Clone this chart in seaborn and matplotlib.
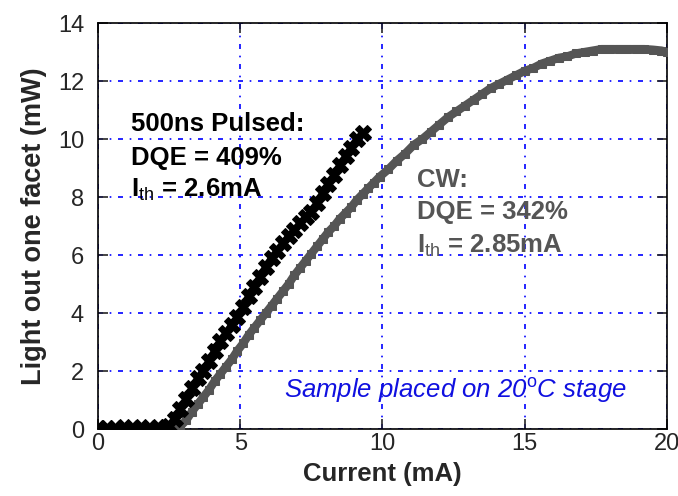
import matplotlib
matplotlib.use('Agg')
import matplotlib.pyplot as plt
import seaborn as sns
import pandas as pd

# Pulsed (500ns) L-I data
pulsed_current = [0.0, 0.3, 0.6, 0.9, 1.2, 1.5, 1.8, 2.1, 2.4,
                  2.5, 2.7, 2.9, 3.1, 3.3, 3.5, 3.7, 3.9, 4.1, 4.3, 4.5,
                  4.7, 4.9, 5.1, 5.3, 5.5, 5.7, 5.9, 6.1, 6.3, 6.5, 6.7,
                  6.9, 7.1, 7.3, 7.5, 7.7, 7.9, 8.1, 8.3, 8.5, 8.7, 8.9,
                  9.1, 9.3]
pulsed_power = [0.05, 0.05, 0.04, 0.06, 0.05, 0.06, 0.05, 0.06, 0.08,
                0.12, 0.35, 0.7, 1.05, 1.4, 1.75, 2.0, 2.35, 2.7, 3.05, 3.3,
                3.6, 3.85, 4.2, 4.6, 4.9, 5.25, 5.6, 5.9, 6.15, 6.4, 6.65,
                6.85, 7.1, 7.3, 7.5, 7.8, 8.15, 8.45, 8.75, 9.1, 9.4, 9.7,
                10.0, 10.2]

# CW L-I data
cw_current = [0.0, 0.4, 0.8, 1.2, 1.6, 2.0, 2.4, 2.8,
              2.9, 3.1, 3.3, 3.5, 3.7, 3.9, 4.1, 4.3, 4.5, 4.7, 4.9, 5.1,
              5.3, 5.5, 5.7, 5.9, 6.1, 6.3, 6.5, 6.7, 6.9, 7.1, 7.3, 7.5,
              7.7, 7.9, 8.1, 8.3, 8.5, 8.7, 8.9, 9.1, 9.3, 9.5, 9.7, 9.9,
              10.2, 10.5, 10.8, 11.1, 11.4, 11.7, 12.0, 12.3, 12.6, 12.9,
              13.2, 13.5, 13.8, 14.1, 14.4, 14.7, 15.0, 15.3, 15.6, 15.9,
              16.2, 16.5, 16.8, 17.1, 17.4, 17.7, 18.0, 18.3, 18.6, 18.9,
              19.2, 19.5, 19.8, 20.0]
cw_power = [-0.02, -0.02, -0.01, -0.02, -0.01, -0.02, -0.01, 0.0,
            0.1, 0.3, 0.6, 0.85, 1.1, 1.35, 1.65, 1.9, 2.15, 2.4, 2.7, 2.95,
            3.25, 3.5, 3.75, 4.0, 4.25, 4.5, 4.75, 5.0, 5.3, 5.55, 5.8, 6.05,
            6.3, 6.55, 6.8, 7.0, 7.25, 7.45, 7.65, 7.9, 8.1, 8.3, 8.5, 8.7,
            8.95, 9.25, 9.5, 9.8, 10.0, 10.25, 10.5, 10.75, 10.95, 11.15,
            11.35, 11.55, 11.75, 11.9, 12.05, 12.2, 12.35, 12.45, 12.6, 12.7,
            12.8, 12.85, 12.95, 13.0, 13.05, 13.1, 13.1, 13.1, 13.1, 13.1,
            13.1, 13.08, 13.05, 13.0]

x_ticks = [0, 5, 10, 15, 20]
y_ticks = [0, 2, 4, 6, 8, 10, 12, 14]

pulsed_df = pd.DataFrame({'current': pulsed_current, 'power': pulsed_power})
cw_df = pd.DataFrame({'current': cw_current, 'power': cw_power})

sns.set_style('ticks')
plt.rcParams['font.family'] = ['Liberation Sans', 'DejaVu Sans']
plt.rcParams['mathtext.fontset'] = 'custom'
plt.rcParams['mathtext.rm'] = 'Liberation Sans'

fig = plt.figure(figsize=(6.78, 4.96), dpi=100)
ax = fig.add_axes([0.1445, 0.135, 0.8393, 0.8186])

grey = '#555555'
# CW curve: thick grey band of square markers
sns.lineplot(data=cw_df, x='current', y='power', ax=ax, sort=False,
             color=grey, linewidth=6, marker='s', markersize=6,
             markeredgecolor=grey, markerfacecolor=grey, zorder=3)
# Pulsed curve: black band of X markers
sns.lineplot(data=pulsed_df, x='current', y='power', ax=ax, sort=False,
             color='black', linewidth=5, marker='X', markersize=11,
             markeredgecolor='black', zorder=4)

ax.set_xlim(0, 20)
ax.set_ylim(0, 14)
ax.set_xticks(x_ticks)
ax.set_yticks(y_ticks)
ax.grid(True, color='blue', linestyle=(0, (3, 4, 1, 4)), linewidth=1.2)
ax.set_axisbelow(True)
ax.tick_params(direction='in', length=7, width=1.2, top=True, right=True,
               labelsize=17)
ax.tick_params(axis='y', pad=10)
ax.tick_params(axis='x', pad=3)
for s in ax.spines.values():
    s.set_linewidth(1.2)
    s.set_color('black')
    s.set_visible(True)

ax.set_xlabel('Current (mA)', fontsize=18.5, fontweight='bold', labelpad=5)
ax.set_ylabel('Light out one facet (mW)', fontsize=19.5, fontweight='bold', labelpad=8)

# Annotations
txt = dict(fontsize=18.5, fontweight='bold', va='center')
ax.text(1.15, 10.52, '500ns Pulsed:', color='black', **txt)
ax.text(1.15, 9.36, 'DQE = 409%', color='black', **txt)
ax.text(1.15, 8.25, r'I$_{\mathrm{th}}$ = 2.6mA', color='black', **txt)

ax.text(11.2, 8.59, 'CW:', color=grey, **txt)
ax.text(11.2, 7.47, 'DQE = 342%', color=grey, **txt)
ax.text(11.2, 6.32, r'I$_{\mathrm{th}}$ = 2.85mA', color=grey, **txt)

ax.text(12.55, 1.34, 'Sample placed on 20$^{\\mathrm{o}}$C stage', fontsize=18.5,
        style='italic', color='#1010e0', va='center', ha='center')

fig.savefig('out.png', dpi=100)
